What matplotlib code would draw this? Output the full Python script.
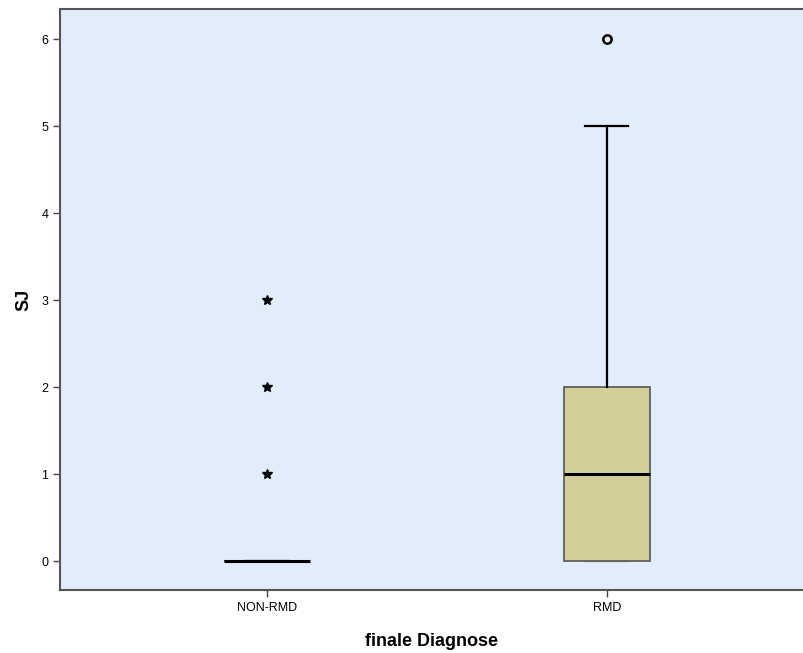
import matplotlib
matplotlib.use("Agg")
import matplotlib.pyplot as plt

plt.rcParams['font.family'] = ['Liberation Sans', 'DejaVu Sans']

categories = ["NON-RMD", "RMD"]
q1 = [0, 0]
medians = [0, 1]
q3 = [0, 2]
whisker_low = [0, 0]
whisker_high = [0, 5]
extremes = [[1, 2, 3], []]      # drawn as stars
outliers = [[], [6]]            # drawn as open circles
yticks = [0, 1, 2, 3, 4, 5, 6]

fig = plt.figure(figsize=(8.04, 6.53), dpi=100)
ax = fig.add_axes([60/804, 63/653, 1 - 60/804, 581/653])
ax.set_facecolor('#E1EDFA')

stats = []
for i, c in enumerate(categories):
    stats.append(dict(label=c, q1=q1[i], med=medians[i], q3=q3[i],
                      whislo=whisker_low[i], whishi=whisker_high[i], fliers=[]))

pos = list(range(len(categories)))
res = ax.bxp(stats, positions=pos, widths=0.253, patch_artist=True, showfliers=False,
             boxprops=dict(facecolor='#D3CE9A', edgecolor='#555555', linewidth=1.2),
             medianprops=dict(color='black', linewidth=2.2),
             whiskerprops=dict(color='black', linewidth=1.6),
             capprops=dict(color='black', linewidth=1.6),
             capwidths=0.127)
# lower caps are hidden under the box edge in the reference (faint grey)
for i, cap in enumerate(res['caps'][0::2]):
    cap.set_color('#AAAAAA')
    cap.set_linewidth(1.0)
    cap.set_zorder(1)
    if i == 0:
        cap.set_visible(False)

for i in pos:
    if extremes[i]:
        ax.plot([i]*len(extremes[i]), extremes[i], linestyle='none', marker='*',
                markersize=7, color='black')
    if outliers[i]:
        ax.plot([i]*len(outliers[i]), outliers[i], linestyle='none', marker='o',
                markersize=6, markerfacecolor='none', markeredgecolor='black',
                markeredgewidth=1.8)

ax.set_xlim(-0.609, 1.58)
ax.set_ylim(-0.333, 6.345)
ax.set_yticks(yticks)
ax.set_xticks(pos)
ax.set_xticklabels(categories)
ax.tick_params(axis='both', labelsize=9, length=5, width=1, color='#444444')
for s in ['left', 'bottom', 'top']:
    ax.spines[s].set_color('#555555')
    ax.spines[s].set_linewidth(1.5)
ax.spines['right'].set_visible(False)

ax.set_ylabel('SJ', fontsize=13, fontweight='bold', labelpad=6)
ax.set_xlabel('finale Diagnose', fontsize=13, fontweight='bold', labelpad=14)

fig.savefig('out.png', dpi=100)
